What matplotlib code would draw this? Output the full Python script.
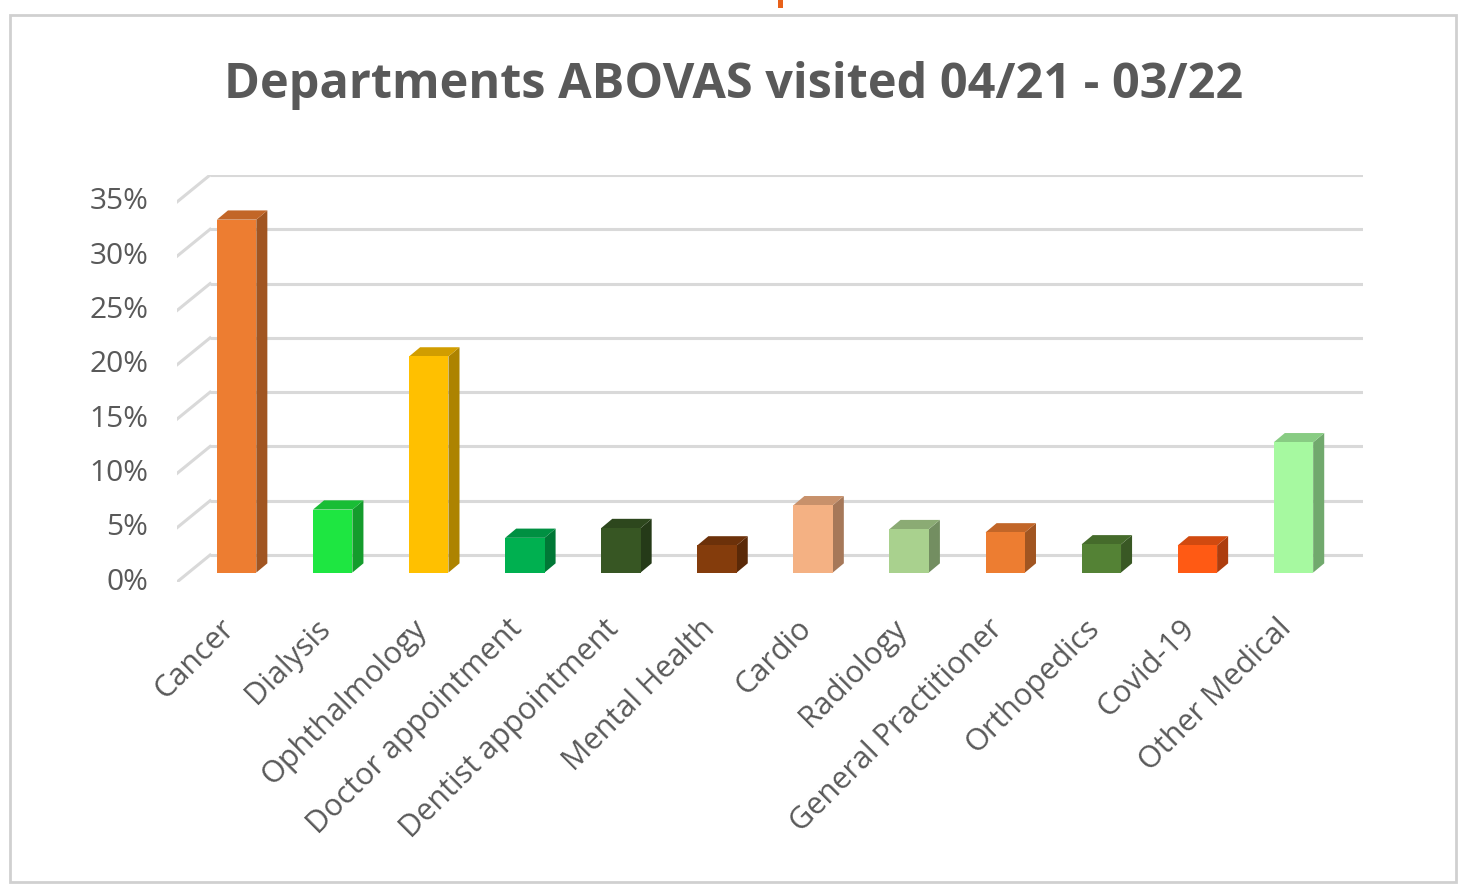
"""Departments ABOVAS visited 04/21 - 03/22, drawn as an Excel-style 3D column chart."""

import matplotlib

matplotlib.use("Agg")
import matplotlib.pyplot as plt
from matplotlib.colors import to_rgb
from matplotlib.patches import Polygon, Rectangle

categories = [
    "Cancer", "Dialysis", "Ophthalmology", "Doctor appointment",
    "Dentist appointment", "Mental Health", "Cardio", "Radiology",
    "General Practitioner", "Orthopedics", "Covid-19", "Other Medical",
]
shares = [32.5, 5.8, 19.9, 3.2, 4.1, 2.5, 6.2, 4.0, 3.7, 2.6, 2.5, 12.0]
bar_colors = [
    "#ED7D31", "#1EE641", "#FFC000", "#00B050", "#375623", "#843C0C",
    "#F4B183", "#A9D18E", "#ED7D31", "#548235", "#FF5A14", "#A6F9A0",
]
y_ticks = [0, 5, 10, 15, 20, 25, 30, 35]

# depth of the back wall, in category units and percent points
DEPTH_X, DEPTH_Y = 0.344, 2.48
BAR_POS = 0.35          # where the bar front sits between front and back
BAR_W = 0.41
BAR_DX, BAR_DY = 0.115, 0.85
GRID = "#D9D9D9"
TEXT = "#595959"

W, H = 1458, 885
fig = plt.figure(figsize=(W / 100, H / 100), dpi=100)
fig.patch.set_facecolor("white")

# chart frame and the orange mark cut off at the top
fig.add_artist(Rectangle((10 / W, 3 / H), 1446 / W, 867 / H, transform=fig.transFigure,
                         fill=False, edgecolor="#D0D0D0", linewidth=2))
fig.add_artist(Rectangle((778 / W, 1 - 8 / H), 5 / W, 8 / H, transform=fig.transFigure,
                         facecolor="#E8611A", edgecolor="none"))

fig.text(734 / W, 1 - 85 / H, "Departments ABOVAS visited 04/21 - 03/22",
         ha="center", va="center", fontsize=35, fontweight="bold",
         family="Open Sans", color=TEXT)

left, bottom = 177 / W, 1 - 582 / H
ax = fig.add_axes([left, bottom, 1186 / W, 407 / H])
n = len(categories)
ax.set_xlim(0, n + DEPTH_X)
ax.set_ylim(0, 35 + DEPTH_Y)
ax.axis("off")

# gridlines on the back wall plus the slanted lines on the side wall
for v in y_ticks:
    ax.plot([DEPTH_X, n + DEPTH_X], [v + DEPTH_Y, v + DEPTH_Y], color=GRID, lw=2.2,
            solid_capstyle="butt", zorder=1)
    ax.plot([0, DEPTH_X], [v, v + DEPTH_Y], color=GRID, lw=2.2, zorder=1)
    ax.text(-0.3, v, f"{v}%", ha="right", va="center", fontsize=21.5,
            family="Open Sans", color=TEXT, clip_on=False)


def shade(color, k):
    r, g, b = to_rgb(color)
    return (r * k, g * k, b * k)


for i, (val, col) in enumerate(zip(shares, bar_colors)):
    x0 = i + 0.5 - BAR_W / 2 + BAR_POS * DEPTH_X
    x1 = x0 + BAR_W
    y0 = BAR_POS * DEPTH_Y
    y1 = y0 + val
    side = Polygon([(x1, y0), (x1 + BAR_DX, y0 + BAR_DY), (x1 + BAR_DX, y1 + BAR_DY), (x1, y1)],
                   closed=True, facecolor=shade(col, 0.68), edgecolor="none", zorder=3)
    top = Polygon([(x0, y1), (x0 + BAR_DX, y1 + BAR_DY), (x1 + BAR_DX, y1 + BAR_DY), (x1, y1)],
                  closed=True, facecolor=shade(col, 0.82), edgecolor="none", zorder=3)
    front = Rectangle((x0, y0), BAR_W, val, facecolor=col, edgecolor="none", zorder=4)
    for p in (side, top, front):
        p.set_clip_on(False)
        ax.add_patch(p)

for i, name in enumerate(categories):
    ax.text(i + 0.55, -3.9, name, rotation=45, rotation_mode="anchor", ha="right",
            va="center", fontsize=22, family="Open Sans", color=TEXT, clip_on=False)

fig.savefig("out.png", dpi=100, facecolor="white")
